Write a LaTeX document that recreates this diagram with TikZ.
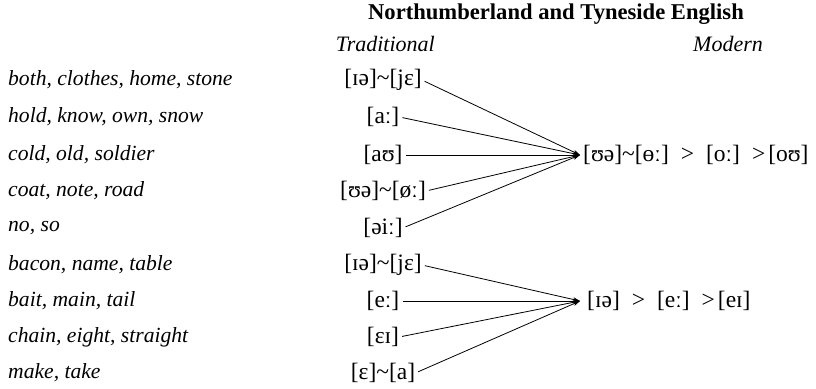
\documentclass[tikz,border=0pt]{standalone}
\usepackage{fontspec}
\setmainfont{Liberation Serif}
\usetikzlibrary{arrows.meta}
\newcommand{\tl}{\char"7E\relax}
\newcommand{\gt}{\hspace{12pt}>\hspace{12pt}}
\newcommand{\gtb}{\hspace{12pt}>\hspace{3pt}}
\begin{document}
\begin{tikzpicture}[x=1pt,y=-1pt,
  every node/.style={inner sep=0pt},
  word/.style={anchor=west,font=\fontsize{21.6}{24}\selectfont\itshape},
  head/.style={font=\fontsize{22}{24}\selectfont\itshape},
  phon/.style={anchor=center,font=\fontsize{23.5}{26}\selectfont},
  modern/.style={anchor=west,font=\fontsize{23.5}{26}\selectfont},
  conn/.style={line width=0.8pt,-{Stealth[length=7pt,width=4.5pt]},shorten <=3pt}]
\useasboundingbox (0,0) rectangle (816,388);
\node[font=\fontsize{22.6}{24}\selectfont\bfseries] (title) at (556,14) {Northumberland and Tyneside English};
\node[head,anchor=east] (trad) at (435,44) {Traditional};
\node[head,anchor=west] (mod) at (693,44) {Modern};
% left column
\node[word] (w1) at (8,80) {both, clothes, home, stone};
\node[word] (w2) at (8,117) {hold, know, own, snow};
\node[word] (w3) at (8,155) {cold, old, soldier};
\node[word] (w4) at (8,191) {coat, note, road};
\node[word] (w5) at (8,228) {no, so};
\node[word] (w6) at (8,265) {bacon, name, table};
\node[word] (w7) at (8,301) {bait, main, tail};
\node[word] (w8) at (8,337) {chain, eight, straight};
\node[word] (w9) at (8,373) {make, take};
% traditional
\node[phon] (p1) at (383,80) {[ɪə]\tl[jɛ]};
\node[phon] (p2) at (383,117) {[aː]};
\node[phon] (p3) at (383,155) {[aʊ]};
\node[phon] (p4) at (383,191) {[ʊə]\tl[øː]};
\node[phon] (p5) at (383,228) {[əiː]};
\node[phon] (p6) at (383,265) {[ɪə]\tl[jɛ]};
\node[phon] (p7) at (383,301) {[eː]};
\node[phon] (p8) at (383,337) {[ɛɪ]};
\node[phon] (p9) at (383,373) {[ɛ]\tl[a]};
% convergence
\coordinate (c1) at (580,155);
\coordinate (c2) at (580,301);
\node[modern] (m1) at (583,155) {[ʊə]\tl[ɵː]\gt[oː]\gtb[oʊ]};
\node[modern] (m2) at (587,301) {[ɪə]\gt[eː]\gtb[eɪ]};
\foreach \i in {1,...,5} \draw[conn] (p\i.east) -- (c1);
\foreach \i in {6,...,9} \draw[conn] (p\i.east) -- (c2);
\end{tikzpicture}
\end{document}
